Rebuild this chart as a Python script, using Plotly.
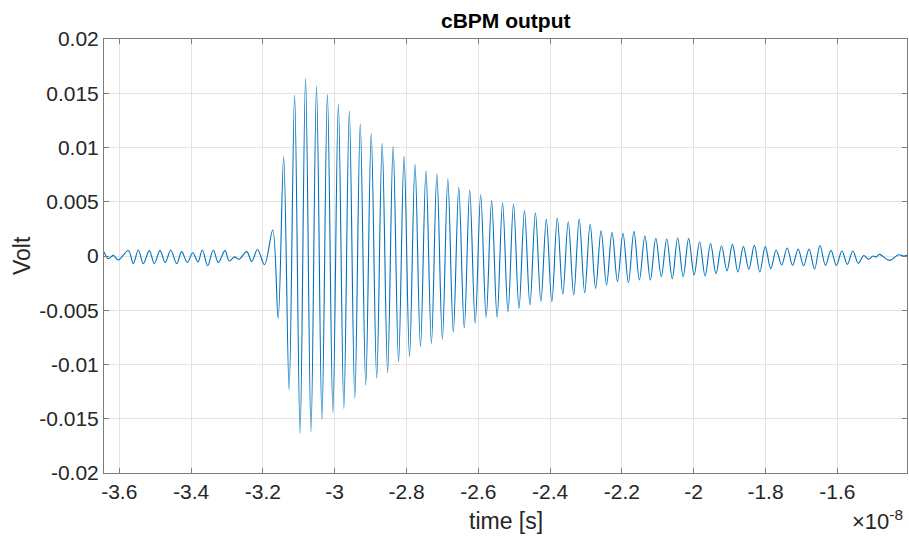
import plotly.graph_objects as go

# time in units of 1e-8 s, voltage in V (extrema of the waveform)
noise_t = [-3.6426, -3.6306, -3.6167, -3.6028, -3.5749, -3.5610, -3.5471, -3.5331, -3.5164, -3.5025,
           -3.4866, -3.4719, -3.4568, -3.4401, -3.4262, -3.4106, -3.3955, -3.3808, -3.3688, -3.3538,
           -3.3382, -3.3242, -3.3056, -3.2936, -3.2791, -3.2666, -3.2451, -3.2312, -3.2150, -3.1955]
noise_v = [0.0004, -0.00025, 0.00006, -0.00037, 0.0005, -0.0007, 0.00055, -0.0007, 0.0005, -0.0007,
           0.0005, -0.0006, 0.00055, -0.0007, 0.0004, -0.0006, 0.0003, -0.00055, 0.00055, -0.0009,
           0.00055, -0.0006, 0.0005, -0.00046, -0.00008, -0.0003, 0.0004, -0.0005, 0.0006, -0.0008]

ring_t = [-3.1727, -3.1575, -3.1422, -3.1270, -3.1117, -3.0965, -3.0812, -3.0660, -3.0507, -3.0355,
          -3.0203, -3.0050, -2.9898, -2.9745, -2.9593, -2.9440, -2.9288, -2.9135, -2.8983, -2.8830,
          -2.8678, -2.8526, -2.8373, -2.8221, -2.8068, -2.7916, -2.7763, -2.7611, -2.7458, -2.7306,
          -2.7154, -2.7001, -2.6849, -2.6696, -2.6544, -2.6391, -2.6239, -2.6086, -2.5934, -2.5781,
          -2.5629, -2.5477, -2.5324, -2.5172, -2.5019, -2.4867, -2.4714, -2.4562, -2.4409, -2.4257,
          -2.4105, -2.3952, -2.3800, -2.3647, -2.3495, -2.3342, -2.3190, -2.3037, -2.2885, -2.2732,
          -2.2580, -2.2428, -2.2275, -2.2123, -2.1970, -2.1818, -2.1665, -2.1513, -2.1360, -2.1208,
          -2.1056, -2.0903, -2.0751, -2.0598, -2.0446, -2.0293, -2.0141, -1.9988, -1.9836, -1.9683,
          -1.9531, -1.9379, -1.9226, -1.9074, -1.8921, -1.8769, -1.8616, -1.8464, -1.8311, -1.8159,
          -1.8007, -1.7854, -1.7702, -1.7549, -1.7397, -1.7244, -1.7092, -1.6939, -1.6787, -1.6634,
          -1.6482, -1.6330, -1.6177, -1.6025, -1.5872, -1.5720, -1.5567, -1.5415]
ring_v = [0.0024, -0.00574, 0.00915, -0.01235, 0.01484, -0.01634, 0.01638, -0.01619, 0.01567, -0.01505,
          0.0149, -0.01444, 0.0140, -0.01404, 0.01336, -0.01312, 0.01217, -0.01189, 0.01131, -0.01127,
          0.01039, -0.01076, 0.01008, -0.00974, 0.00922, -0.00928, 0.00845, -0.00836, 0.00783, -0.00805,
          0.00755, -0.00768, 0.0071, -0.00703, 0.0063, -0.00661, 0.00608, -0.0062, 0.00565, -0.00565,
          0.0051, -0.00565, 0.00491, -0.00516, 0.00479, -0.00486, 0.00418, -0.00449, 0.00399, -0.00418,
          0.00338, -0.00421, 0.0035, -0.00353, 0.00316, -0.00359, 0.00341, -0.00338, 0.00292, -0.00298,
          0.00233, -0.00267, 0.00218, -0.00237, 0.00209, -0.00246, 0.00227, -0.00221, 0.00184, -0.00221,
          0.00163, -0.0019, 0.00157, -0.00209, 0.00166, -0.0019, 0.0016, -0.00175, 0.00132, -0.00184,
          0.00114, -0.00163, 0.00095, -0.00138, 0.00107, -0.00147, 0.00086, -0.00123, 0.00098, -0.00147,
          0.00086, -0.00117, 0.00055, -0.00083, 0.00074, -0.00086, 0.00065, -0.0009, 0.00065, -0.0012,
          0.00097, -0.00086, 0.00052, -0.00086, 0.00046, -0.00077, 0.00046, -0.00068]

tail_t = [-1.5262, -1.5131, -1.5006, -1.4922, -1.4825, -1.4546, -1.4295, -1.4156, -1.4059]
tail_v = [0.00005, -0.0003, 0.0, -0.0001, 0.00015, -0.0004, 0.00012, 0.0, 0.00006]

x_ticks = [-3.6, -3.4, -3.2, -3.0, -2.8, -2.6, -2.4, -2.2, -2.0, -1.8, -1.6]
x_ticktext = ["-3.6", "-3.4", "-3.2", "-3", "-2.8", "-2.6", "-2.4", "-2.2", "-2", "-1.8", "-1.6"]
y_ticks = [0.02, 0.015, 0.01, 0.005, 0, -0.005, -0.01, -0.015, -0.02]
y_ticktext = ["0.02", "0.015", "0.01", "0.005", "0", "-0.005", "-0.01", "-0.015", "-0.02"]

t_all = noise_t + ring_t + tail_t
v_all = noise_v + ring_v + tail_v

FONT = "Liberation Sans, Arial, sans-serif"
TXT = "#262626"
AX = "#7d7d7d"

fig = go.Figure()
fig.add_trace(go.Scatter(x=t_all, y=v_all, mode="lines",
                         line=dict(color="#0072BD", width=1.1, shape="spline", smoothing=1.0),
                         showlegend=False, hoverinfo="skip"))

axis_common = dict(showline=True, linecolor=AX, linewidth=1, mirror="ticks",
                   ticks="inside", ticklen=5, tickcolor=AX, tickwidth=1,
                   showgrid=True, gridcolor="#e3e3e3", gridwidth=1, zeroline=False,
                   tickfont=dict(family=FONT, size=21, color=TXT))

fig.update_xaxes(range=[-3.6426, -1.4059], tickvals=x_ticks, ticktext=x_ticktext, **axis_common)
fig.update_yaxes(range=[-0.02, 0.02], tickvals=y_ticks, ticktext=y_ticktext, **axis_common)

fig.update_layout(
    width=909, height=537,
    margin=dict(l=104, r=2, t=39, b=64),
    paper_bgcolor="white", plot_bgcolor="white",
    font=dict(family=FONT, color=TXT),
    annotations=[
        dict(text="<b>cBPM output</b>", x=0.5, y=1.0, xref="paper", yref="paper",
             xanchor="center", yanchor="bottom", yshift=5, showarrow=False,
             font=dict(family=FONT, size=21, color="#000000")),
        dict(text="Volt", x=-0.1021, y=0.5, xref="paper", yref="paper", textangle=-90,
             xanchor="center", yanchor="middle", showarrow=False,
             font=dict(family=FONT, size=23, color=TXT)),
        dict(text="time [s]", x=0.5, y=-0.1106, xref="paper", yref="paper",
             xanchor="center", yanchor="middle", showarrow=False,
             font=dict(family=FONT, size=23, color=TXT)),
        dict(text="×10<sup>-8</sup>", x=0.997, y=-0.146, xref="paper", yref="paper",
             xanchor="right", yanchor="bottom", showarrow=False,
             font=dict(family=FONT, size=22, color=TXT)),
    ],
)

fig.write_html("out.html", config={"displayModeBar": False},
               post_script="document.body.style.margin='0';document.body.style.overflow='hidden';")
